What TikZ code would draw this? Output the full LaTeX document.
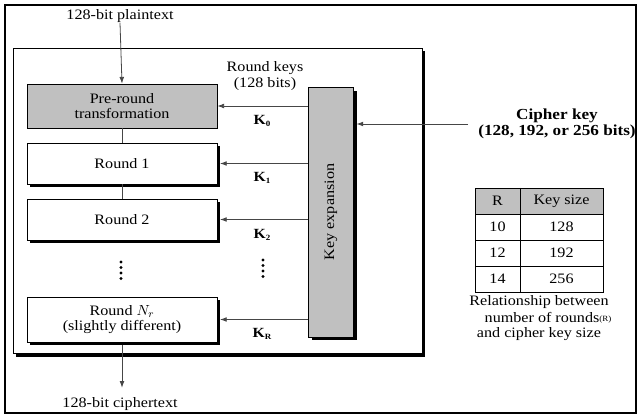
\documentclass[tikz,border=0pt]{standalone}
\usepackage{fontspec}
\setmainfont{Liberation Serif}[FakeStretch=1.12]
\usetikzlibrary{arrows.meta}
\definecolor{boxgray}{RGB}{192,192,192}
\definecolor{linegray}{RGB}{70,70,70}
\begin{document}
\begin{tikzpicture}[x=0.75pt,y=-0.75pt,
  font=\fontsize{10.8}{12.5}\selectfont,
  arr/.style={draw=linegray,line width=0.6pt,-{Latex[length=5pt,width=3.6pt]}},
  conn/.style={draw=linegray,line width=0.6pt},
  stage/.style={draw=black,line width=0.6pt,fill=white,minimum width=142.5pt,align=center,inner sep=1pt},
  shade/.style={fill=black},
  lbl/.style={inner sep=0pt,align=center},
  kl/.style={inner sep=0pt,font=\fontsize{10.5}{12}\selectfont\bfseries},
  dot/.style={fill=black}
]
\useasboundingbox (0,0) rectangle (639,417);
% outer border
\draw[line width=1.2pt] (5,5) rectangle (636,413);
% inner frame with shadow
\fill[shade] (16,51) rectangle (425,357);
\draw[line width=0.6pt,fill=white] (13,48) rectangle (422,353);

% stages
\fill[shade] (30,146) rectangle (220,187);
\fill[shade] (30,202) rectangle (220,243);
\fill[shade] (30,300) rectangle (220,345);
\node[stage,fill=boxgray,minimum height=33pt] (pre) at (122,106) {Pre-round\\[-1pt]transformation};
\node[stage,minimum height=30.75pt] (r1) at (122,163.5) {Round 1};
\node[stage,minimum height=30.75pt] (r2) at (122,219.5) {Round 2};
\node[stage,minimum height=33.75pt] (rn) at (122,319.5) {Round $N_r$\\[-1pt](slightly different)};
\foreach \yy in {262,267.5,273,278.5} {\fill[dot] (121,\yy) circle (1.6);}

% key expansion
\fill[shade] (312,91) rectangle (357,340);
\node[draw=black,line width=0.6pt,fill=boxgray,minimum width=33.75pt,minimum height=187.5pt,inner sep=0pt] (ke) at (331,212) {};
\node[rotate=90,lbl] (ket) at (ke.center) {Key expansion};

% plaintext / ciphertext
\node[lbl] (pt) at (120,16) {128-bit plaintext};
\node[lbl] (ct) at (120,404) {128-bit ciphertext};
\draw[arr] (pt.south) -- (pre.north);
\draw[conn] (pre.south) -- (r1.north);
\draw[conn] (r1.south) -- (r2.north);
\draw[arr] ([yshift=-2pt]rn.south) -- ([yshift=-34pt]rn.south);

% round keys
\node[lbl] (rk) at (265,76) {Round keys\\[-1pt](128 bits)};
\draw[arr] (pre.east -| ke.west) -- (pre.east);
\draw[arr] (r1.east -| ke.west) -- ([xshift=2pt]r1.east);
\draw[arr] (r2.east -| ke.west) -- ([xshift=2pt]r2.east);
\draw[arr] (rn.east -| ke.west) -- ([xshift=2pt]rn.east);
\node[kl] (k0) at (262,121) {K\raisebox{-2pt}{\fontsize{6}{6}\selectfont 0}};
\node[kl] (k1) at (262,178) {K\raisebox{-2pt}{\fontsize{6}{6}\selectfont 1}};
\node[kl] (k2) at (262,235) {K\raisebox{-2pt}{\fontsize{6}{6}\selectfont 2}};
\node[kl] (kr) at (262,334) {K\raisebox{-2pt}{\fontsize{6}{6}\selectfont R}};
\foreach \yy in {260,265.5,271,276.5} {\fill[dot] (263,\yy) circle (1.6);}

% cipher key
\coordinate (ck) at (468,124);
\draw[arr] (ck) -- ([xshift=2pt]ck -| ke.east);
\node[lbl,font=\fontsize{11.5}{13}\selectfont\bfseries] (ckt) at (557,124) {Cipher key\\[-1pt](128, 192, or 256 bits)};

% table
\fill[boxgray] (475,188) rectangle (603,214);
\draw[line width=0.6pt] (475,188) rectangle (603,292);
\draw[line width=0.6pt] (475,214) -- (603,214);
\draw[line width=0.6pt] (475,240) -- (603,240);
\draw[line width=0.6pt] (475,266) -- (603,266);
\draw[line width=0.6pt] (520,188) -- (520,292);
\node[lbl] (h1) at (497.5,201) {R};
\node[lbl] (h2) at (561.5,201) {Key size};
\node[lbl] (a1) at (497.5,227) {10};
\node[lbl] (b1) at (561.5,227) {128};
\node[lbl] (a2) at (497.5,253) {12};
\node[lbl] (b2) at (561.5,253) {192};
\node[lbl] (a3) at (497.5,279) {14};
\node[lbl] (b3) at (561.5,279) {256};
\node[lbl] (c1) at (539,302) {Relationship between};
\node[lbl] (c2) at (548,318) {number of rounds\raisebox{1pt}{\fontsize{6}{6}\selectfont(R)}};
\node[lbl] (c3) at (539,334) {and cipher key size};
\end{tikzpicture}
\end{document}
